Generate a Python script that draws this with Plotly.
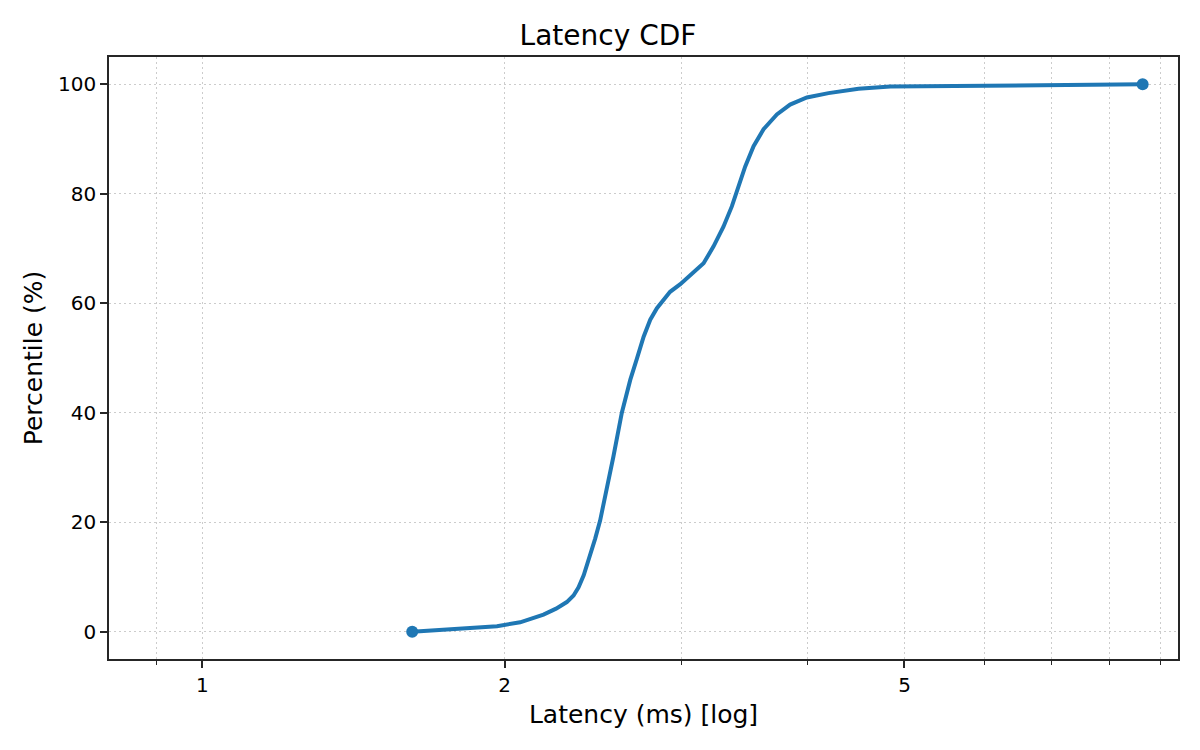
import plotly.graph_objects as go

# Data
latency_ms = [1.618, 1.965, 2.072, 2.186, 2.25, 2.306, 2.342, 2.369, 2.397, 2.424,
              2.461, 2.489, 2.518, 2.543, 2.566, 2.616, 2.667, 2.708, 2.75, 2.792,
              2.835, 2.878, 2.922, 2.991, 3.08, 3.155, 3.228, 3.302, 3.366, 3.418,
              3.471, 3.538, 3.62, 3.732, 3.847, 3.998, 4.201, 4.5, 4.84, 8.63]
percentile = [0, 1.0, 1.7, 3.1, 4.2, 5.4, 6.6, 8.1, 10.3, 13.0,
              17.0, 20.3, 24.6, 28.2, 32.0, 40.0, 46.0, 49.9, 53.9, 57.0,
              59.1, 60.6, 62.1, 63.5, 65.5, 67.3, 70.4, 74.0, 77.7, 81.4,
              85.0, 88.7, 91.8, 94.5, 96.3, 97.6, 98.4, 99.2, 99.6, 100]

x_ticks = [1, 2, 5]
x_tick_labels = ["1", "2", "5"]
x_minor = [0.9, 3, 4, 6, 7, 8, 9]
y_ticks = [0, 20, 40, 60, 80, 100]

BLUE = "#1f77b4"
AX = "#262626"
GRID = "#cccccc"
DASH = "2px,3px"
FONT = "DejaVu Sans"

fig = go.Figure()
fig.add_trace(go.Scatter(
    x=latency_ms, y=percentile, mode="lines",
    line=dict(color=BLUE, width=4), showlegend=False, hoverinfo="skip"))
fig.add_trace(go.Scatter(
    x=[latency_ms[0], latency_ms[-1]], y=[percentile[0], percentile[-1]],
    mode="markers", marker=dict(color=BLUE, size=12), showlegend=False))

fig.update_layout(
    width=1200, height=750,
    margin=dict(l=101, r=30, t=49, b=99),
    paper_bgcolor="white", plot_bgcolor="white",
    font=dict(family=FONT, color="black", size=20),
    title=dict(text="Latency CDF", x=0.5, xanchor="center",
               y=1 - 27 / 750, yref="container", yanchor="middle",
               font=dict(size=28, family=FONT, color="black")),
)

fig.update_xaxes(
    type="log", range=[-0.0928, 0.9712],
    tickmode="array", tickvals=x_ticks, ticktext=x_tick_labels,
    ticks="outside", ticklen=7, tickwidth=1.6, tickcolor=AX,
    showline=True, linecolor=AX, linewidth=1.6, mirror=True,
    showgrid=True, gridcolor=GRID, griddash=DASH, gridwidth=1.2,
    zeroline=False,
    tickfont=dict(size=20, family=FONT, color="black"),
    minor=dict(tickmode="array", tickvals=x_minor, ticks="outside",
               ticklen=4, tickwidth=1.2, tickcolor=AX,
               showgrid=True, gridcolor=GRID, griddash=DASH, gridwidth=1.2),
    title=dict(text="Latency (ms) [log]", standoff=10,
               font=dict(size=25, family=FONT, color="black")),
)

fig.update_yaxes(
    range=[-5, 105],
    tickmode="array", tickvals=y_ticks,
    ticks="outside", ticklen=7, tickwidth=1.6, tickcolor=AX,
    showline=True, linecolor=AX, linewidth=1.6, mirror=True,
    showgrid=True, gridcolor=GRID, griddash=DASH, gridwidth=1.2,
    zeroline=False,
    tickfont=dict(size=20, family=FONT, color="black"),
    title=dict(text="Percentile (%)", standoff=8,
               font=dict(size=25, family=FONT, color="black")),
)

fig.write_html("out.html")
